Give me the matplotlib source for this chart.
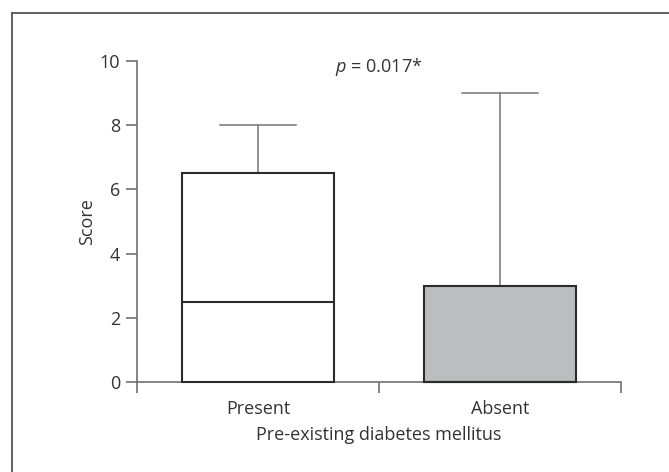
import matplotlib
matplotlib.use("Agg")
import matplotlib.pyplot as plt
from matplotlib.lines import Line2D

plt.rcParams['font.family'] = ['Open Sans', 'DejaVu Sans']
plt.rcParams['mathtext.fontset'] = 'custom'
plt.rcParams['mathtext.rm'] = 'Open Sans'
plt.rcParams['mathtext.it'] = 'Open Sans:italic'

categories = ["Present", "Absent"]
q1 = [0, 0]
medians = [2.5, 0]
q3 = [6.5, 3]
whis_lo = [0, 0]
whis_hi = [8, 9]
fills = ["#ffffff", "#bcbdc0"]
yticks = [0, 2, 4, 6, 8, 10]
p_text = r"$\it{p}$ = 0.017*"

FS = 13
fig = plt.figure(figsize=(6.69, 4.72), dpi=100)
ax = fig.add_axes([137/669, 1-382/472, (621-137)/669, (382-61)/472])

stats = []
for i, c in enumerate(categories):
    stats.append(dict(label=c, q1=q1[i], med=medians[i], q3=q3[i],
                      whislo=whis_lo[i], whishi=whis_hi[i], fliers=[]))

positions = [i + 0.5 for i in range(len(categories))]
bp = ax.bxp(stats, positions=positions, widths=0.628, patch_artist=True,
            showfliers=False,
            boxprops=dict(edgecolor="#2b2b2b", linewidth=1.5),
            medianprops=dict(color="#2b2b2b", linewidth=1.5),
            whiskerprops=dict(color="#808080", linewidth=1.2),
            capprops=dict(color="#808080", linewidth=1.2),
            capwidths=0.314)
for patch, f in zip(bp['boxes'], fills):
    patch.set_facecolor(f)
    patch.set_zorder(3)
for m in bp['medians']:
    m.set_zorder(4)
for k, cap in enumerate(bp['caps']):
    if k % 2 == 0:
        cap.set_visible(False)
for k, w in enumerate(bp['whiskers']):
    if k % 2 == 0:
        w.set_visible(False)
for art in bp['boxes'] + bp['medians']:
    art.set_clip_on(False)

ax.set_xlim(0, len(categories))
ax.set_ylim(0, 10)
ax.set_yticks(yticks)
ax.set_yticklabels([str(t) for t in yticks])
ax.set_xticks(range(len(categories) + 1))
ax.set_xticklabels([])
ax.set_xticks(positions, minor=True)
ax.set_xticklabels(categories, minor=True)
ax.tick_params(axis='x', which='minor', length=0, pad=13, labelsize=FS, colors="#333333")
ax.tick_params(axis='x', which='major', length=8, width=1.2, color="#707070")
ax.tick_params(axis='y', length=8, width=1.2, color="#707070", labelsize=FS,
               labelcolor="#333333", pad=4)
for s in ['top', 'right']:
    ax.spines[s].set_visible(False)
for s in ['left', 'bottom']:
    ax.spines[s].set_color("#707070")
    ax.spines[s].set_linewidth(1.2)

ax.set_ylabel("Score", fontsize=FS, color="#333333", labelpad=3)
ax.set_xlabel("Pre-existing diabetes mellitus", fontsize=FS, color="#333333", labelpad=6)

ax.text(1.0, 9.8, p_text, ha='center', va='center', fontsize=FS, color="#333333")

# outer frame (top and left visible)
fig.add_artist(Line2D([12/669, 1.0], [1-13/472, 1-13/472], color="#555555", lw=1.3,
                      transform=fig.transFigure))
fig.add_artist(Line2D([12/669, 12/669], [0, 1-13/472], color="#555555", lw=1.3,
                      transform=fig.transFigure))

fig.savefig("out.png", dpi=100)
